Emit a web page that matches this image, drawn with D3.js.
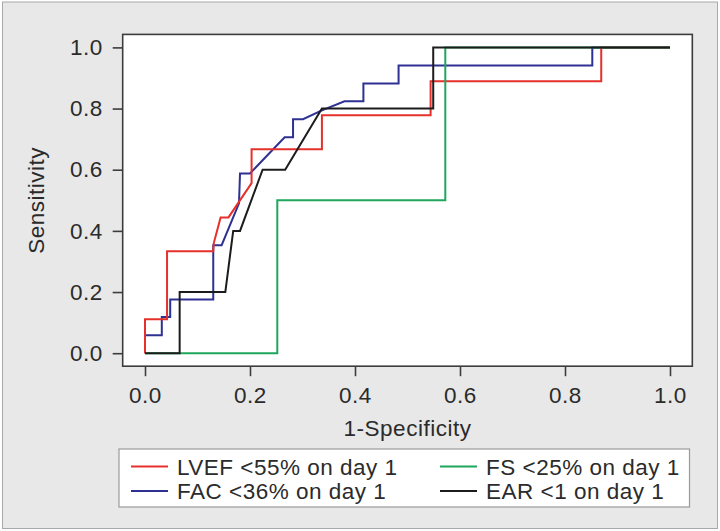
<!DOCTYPE html>
<html>
<head>
<meta charset="utf-8">
<script src="https://cdn.jsdelivr.net/npm/d3@7"></script>
<style>
  html, body { margin: 0; padding: 0; background: #ffffff; }
  svg { display: block; }
  text { font-family: "Liberation Sans", Arial, Helvetica, sans-serif; fill: #2b2b2b; letter-spacing: 0.5px; }
</style>
</head>
<body>
<script>
// ---- Data ----
const seriesNames = ["LVEF <55% on day 1", "FAC <36% on day 1", "FS <25% on day 1", "EAR <1 on day 1"];
const seriesColors = ["#e5302b", "#2e3192", "#1fa65c", "#1c1c1c"];

// LVEF <55% on day 1 (red)
const lvefX = [0, 0, 0.042, 0.042, 0.130, 0.131, 0.144, 0.159, 0.203, 0.203, 0.337, 0.337, 0.544, 0.544, 0.869, 0.869, 1];
const lvefY = [0, 0.111, 0.111, 0.333, 0.333, 0.36, 0.444, 0.444, 0.556, 0.667, 0.667, 0.778, 0.778, 0.889, 0.889, 1, 1];

// FAC <36% on day 1 (blue)
const facX = [0, 0, 0.032, 0.032, 0.048, 0.048, 0.130, 0.130, 0.146, 0.179, 0.181, 0.200, 0.266, 0.282, 0.282, 0.301, 0.337, 0.380, 0.416, 0.416, 0.483, 0.483, 0.852, 0.852, 1];
const facY = [0, 0.059, 0.059, 0.118, 0.118, 0.176, 0.176, 0.353, 0.353, 0.49, 0.588, 0.588, 0.706, 0.706, 0.765, 0.765, 0.794, 0.824, 0.824, 0.882, 0.882, 0.941, 0.941, 1, 1];

// FS <25% on day 1 (green)
const fsX = [0, 0.252, 0.252, 0.572, 0.572, 1];
const fsY = [0, 0, 0.5, 0.5, 1, 1];

// EAR <1 on day 1 (black)
const earX = [0, 0.066, 0.066, 0.153, 0.168, 0.181, 0.224, 0.267, 0.337, 0.549, 0.549, 1];
const earY = [0, 0, 0.2, 0.2, 0.4, 0.4, 0.6, 0.6, 0.8, 0.8, 1, 1];

const tickValues = [0, 0.2, 0.4, 0.6, 0.8, 1.0];
const xTitle = "1-Specificity";
const yTitle = "Sensitivity";

// ---- Build ----
const W = 720, H = 531;
const FS = 22.5;
const svg = d3.select("body").append("svg").attr("width", W).attr("height", H);

// outer frame
svg.append("rect").attr("x", 2.5).attr("y", 2).attr("width", 715).attr("height", 526.5)
  .attr("fill", "#e8e8e8").attr("stroke", "#a8a8a8").attr("stroke-width", 1);

const x = d3.scaleLinear().domain([0, 1]).range([145, 670]);
const y = d3.scaleLinear().domain([0, 1]).range([353.2, 47.4]);
const pad = 0.0425;

// plot box
const bx0 = x(-pad), bx1 = x(1 + pad), by0 = y(1 + pad), by1 = y(-pad);
svg.append("rect").attr("x", bx0).attr("y", by0).attr("width", bx1 - bx0).attr("height", by1 - by0)
  .attr("fill", "#ffffff").attr("stroke", "#3c3c3c").attr("stroke-width", 1.6);

// axes
const fmt = d3.format(".1f");
const gx = svg.append("g").attr("transform", `translate(0,${by1})`)
  .call(d3.axisBottom(x).tickValues(tickValues).tickFormat(fmt).tickSize(10).tickPadding(11));
const gy = svg.append("g").attr("transform", `translate(${bx0},0)`)
  .call(d3.axisLeft(y).tickValues(tickValues).tickFormat(fmt).tickSize(10).tickPadding(10));
[gx, gy].forEach(g => {
  g.select(".domain").remove();
  g.selectAll(".tick line").attr("stroke", "#3c3c3c").attr("stroke-width", 1.6);
  g.selectAll(".tick text").attr("font-size", FS).attr("fill", "#2b2b2b")
    .attr("font-family", "'Liberation Sans', Arial, sans-serif");
});

// axis titles
svg.append("text").attr("x", (x(0) + x(1)) / 2).attr("y", 436).attr("text-anchor", "middle")
  .attr("font-size", FS).text(xTitle);
svg.append("text").attr("transform", `translate(44,${(y(0) + y(1)) / 2}) rotate(-90)`)
  .attr("text-anchor", "middle").attr("font-size", FS).text(yTitle);

// curves
const series = [
  { xs: lvefX, ys: lvefY, c: seriesColors[0] },
  { xs: facX, ys: facY, c: seriesColors[1] },
  { xs: fsX, ys: fsY, c: seriesColors[2] },
  { xs: earX, ys: earY, c: seriesColors[3] }
];
const line = d3.line().x(d => x(d[0])).y(d => y(d[1]));
const drawOrder = [1, 0, 2, 3];
drawOrder.forEach(i => {
  const s = series[i];
  const pts = s.xs.map((v, k) => [v, s.ys[k]]);
  svg.append("path").datum(pts).attr("d", line)
    .attr("fill", "none").attr("stroke", s.c).attr("stroke-width", 2)
    .attr("stroke-linejoin", "miter");
});

// legend
const lg = svg.append("g");
lg.append("rect").attr("x", 119).attr("y", 449).attr("width", 570.5).attr("height", 58)
  .attr("fill", "#ffffff").attr("stroke", "#9a9a9a").attr("stroke-width", 1.2);
const legendPos = [
  { lx: 131, ly: 466.5 }, // LVEF
  { lx: 131, ly: 491 },   // FAC
  { lx: 440, ly: 466.5 }, // FS
  { lx: 440, ly: 491 }    // EAR
];
seriesNames.forEach((name, i) => {
  const p = legendPos[i];
  lg.append("line").attr("x1", p.lx).attr("x2", p.lx + 37).attr("y1", p.ly).attr("y2", p.ly)
    .attr("stroke", seriesColors[i]).attr("stroke-width", 2);
  lg.append("text").attr("x", p.lx + 46).attr("y", p.ly + 8).attr("font-size", FS).text(name);
});
</script>
</body>
</html>
